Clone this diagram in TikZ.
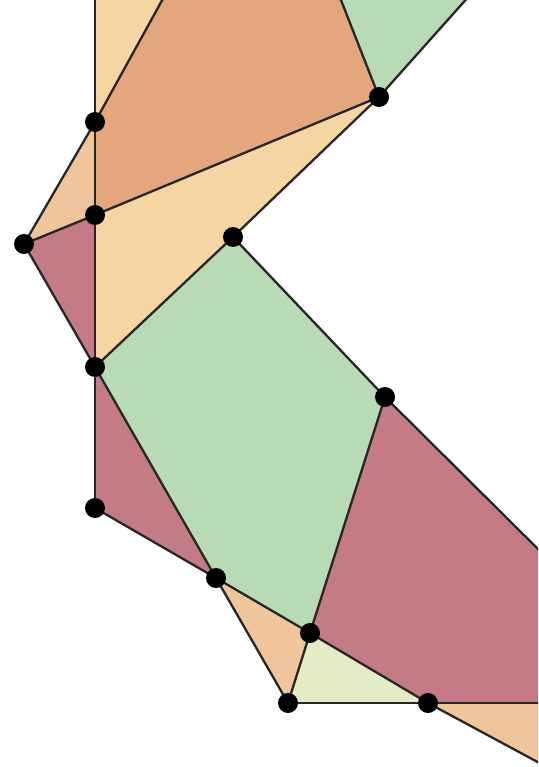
\documentclass[tikz,border=0pt]{standalone}
\definecolor{dorange}{HTML}{E4A67C}
\definecolor{peach}{HTML}{F5D5A2}
\definecolor{lorange}{HTML}{F1C59C}
\definecolor{mauve}{HTML}{C47B86}
\definecolor{mint}{HTML}{B8DBB5}
\definecolor{lime}{HTML}{E3ECC5}
\tikzset{
  edge/.style={draw=black!85, line width=2.3pt, line join=round},
  dot/.style={circle, fill=black, inner sep=0pt, minimum size=20pt},
}
\begin{document}
\begin{tikzpicture}[x=1pt,y=-1pt]
\useasboundingbox (0,0) rectangle (538,767);
\clip (0,0) rectangle (538,767);
% vertices
\coordinate (A) at (95,122);
\coordinate (B) at (379,97);
\coordinate (C) at (95,215);
\coordinate (D) at (24,244);
\coordinate (E) at (233,237);
\coordinate (F) at (95,367);
\coordinate (G) at (385,397);
\coordinate (H) at (95,508);
\coordinate (I) at (216,578);
\coordinate (J) at (310,633);
\coordinate (K) at (288,703);
\coordinate (L) at (428,703);
% border points
\coordinate (T0) at (95,-5);
\coordinate (T1) at (165,-5);
\coordinate (T2) at (339,-5);
\coordinate (T3) at (470,-5);
\coordinate (R1) at (545,556);
\coordinate (R2) at (545,703);
\coordinate (R3) at (545,766);
% faces
\fill[peach] (T0) -- (T1) -- (A) -- cycle;
\fill[dorange] (A) -- (T1) -- (T2) -- (B) -- (C) -- cycle;
\fill[mint] (T2) -- (T3) -- (B) -- cycle;
\fill[lorange] (A) -- (C) -- (D) -- cycle;
\fill[peach] (C) -- (B) -- (E) -- (F) -- cycle;
\fill[mauve] (D) -- (C) -- (F) -- cycle;
\fill[mint] (E) -- (G) -- (J) -- (I) -- (F) -- cycle;
\fill[mauve] (F) -- (I) -- (H) -- cycle;
\fill[mauve] (G) -- (R1) -- (R2) -- (L) -- (J) -- cycle;
\fill[lorange] (L) -- (R2) -- (R3) -- cycle;
\fill[lorange] (I) -- (J) -- (K) -- cycle;
\fill[lime] (J) -- (L) -- (K) -- cycle;
% edges
\draw[edge] (T0) -- (A) -- (C) -- (F) -- (H);
\draw[edge] (T1) -- (A) -- (D) -- (C) -- (B);
\draw[edge] (T2) -- (B) -- (T3);
\draw[edge] (B) -- (E) -- (F) -- (D);
\draw[edge] (E) -- (G) -- (R1);
\draw[edge] (G) -- (J) -- (K) -- (I);
\draw[edge] (F) -- (I) -- (H);
\draw[edge] (I) -- (J) -- (L) -- (R3);
\draw[edge] (K) -- (L) -- (R2);
% dots
\foreach \p in {A,B,C,D,E,F,G,H,I,J,K,L}
  \node[dot] (n\p) at (\p) {};
\end{tikzpicture}
\end{document}
